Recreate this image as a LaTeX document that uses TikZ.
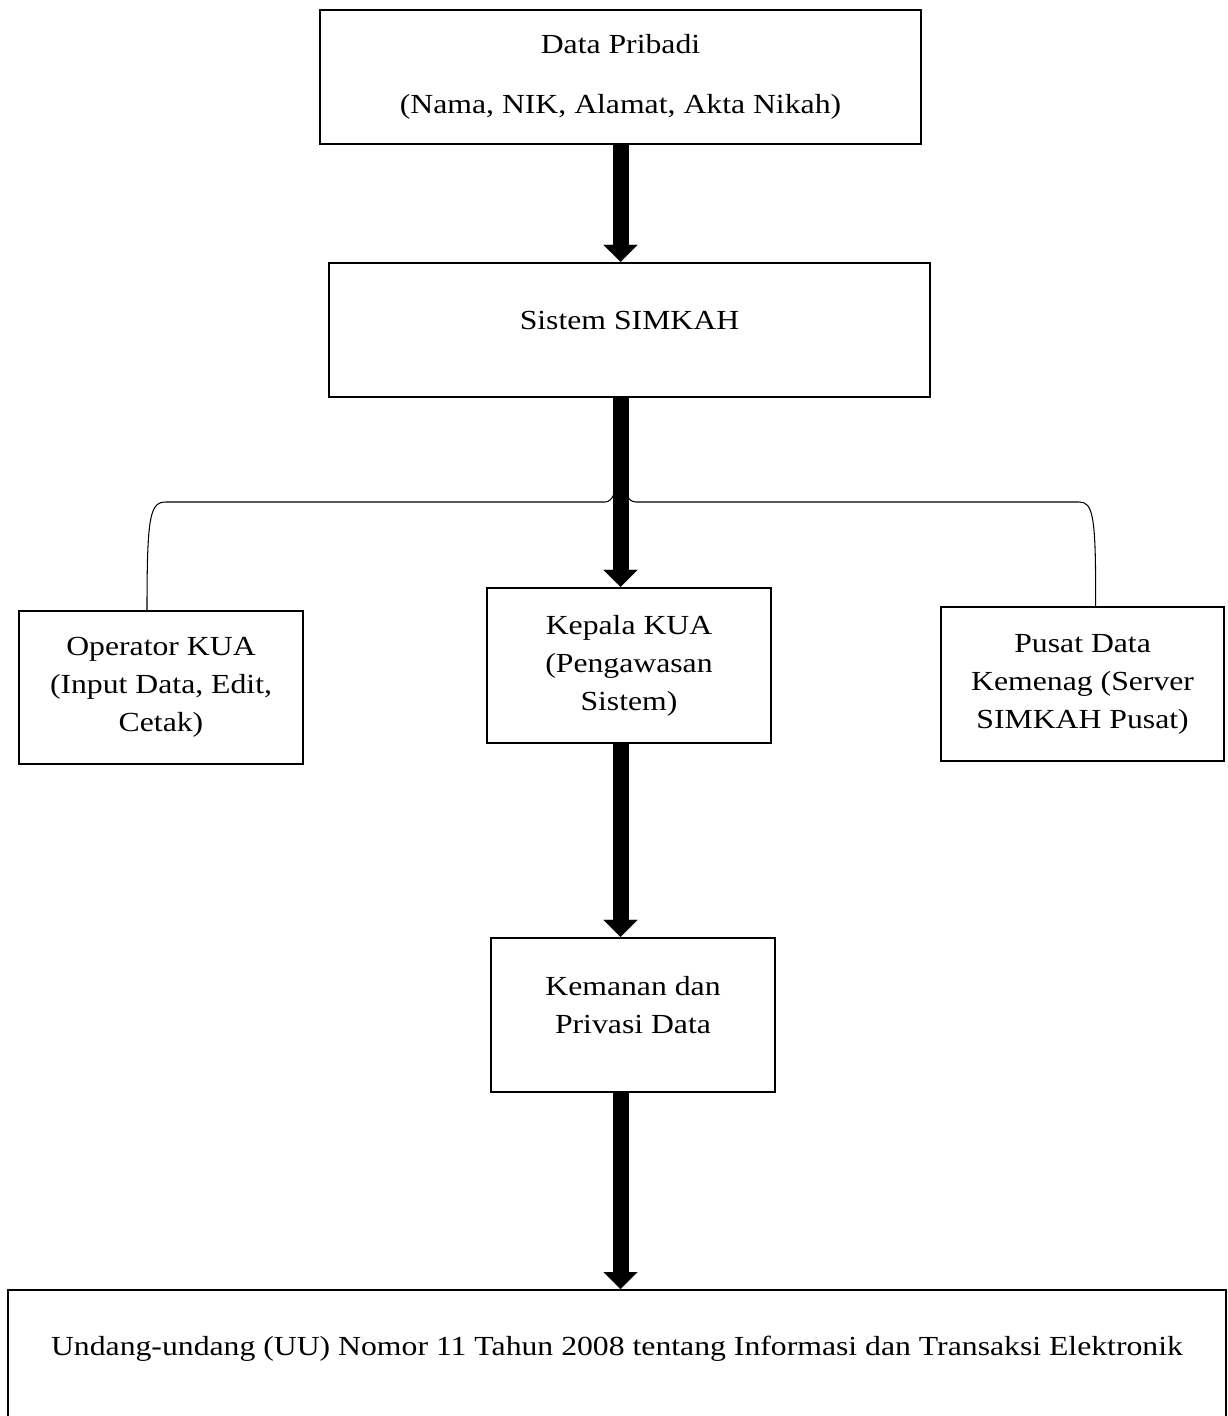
\documentclass[tikz,border=0pt]{standalone}
\usepackage{fontspec}
\setmainfont[FakeStretch=1.15]{Liberation Serif}
\usetikzlibrary{arrows.meta}

\begin{document}
\begin{tikzpicture}[x=0.02cm, y=-0.02cm,
        box/.style={draw=black, line width=1.3pt, align=center, inner sep=0pt, font=\fontsize{15.7}{21.6}\selectfont},
        flow/.style={line width=0.32cm, -{Triangle[width=0.68cm, length=0.34cm, line width=0.1pt]}},
        brace/.style={draw=black, line width=0.6pt}
        ]
            \useasboundingbox (0,0) rectangle (1227,1416);

            \node[box, minimum width=12.02cm, minimum height=2.68cm] (pribadi) at (620.5,77) {Data Pribadi\\[12.5pt](Nama, NIK, Alamat, Akta Nikah)};
            \node[box, minimum width=12.02cm, minimum height=2.68cm, text depth=0.37cm] (sistem) at (629.5,330) {Sistem SIMKAH};
            \node[box, minimum width=5.68cm, minimum height=3.06cm] (opk) at (161,687.5) {Operator KUA\\(Input Data, Edit,\\Cetak)};
            \node[box, minimum width=5.68cm, minimum height=3.1cm] (kepala) at (629,665.5) {Kepala KUA\\(Pengawasan\\Sistem)};
            \node[box, minimum width=5.66cm, minimum height=3.08cm] (pusat) at (1082.6,684) {Pusat Data\\Kemenag (Server\\SIMKAH Pusat)};
            \node[box, minimum width=5.68cm, minimum height=3.08cm, text depth=0.41cm] (aman) at (633,1015) {Kemanan dan\\Privasi Data};
            \node[box, anchor=north, minimum width=24.36cm, minimum height=3.2cm, text depth=0.98cm] (uu) at (617,1289) {Undang-undang (UU) Nomor 11 Tahun 2008 tentang Informasi dan Transaksi Elektronik};

            \coordinate (cusp) at (620,470);

            % kurung kurawal ke tiga bagian
            \draw[brace] ([xshift=-0.28cm]opk.north) .. controls (147,515) and (150,502) .. (166,502) -- (605,502) .. controls (613,502) and (617,490) .. (cusp);
            \draw[brace] (cusp) .. controls (623,490) and (627,502) .. (636,502) -- (1079,502) .. controls (1093,502) and (1096,515) .. ([xshift=0.26cm]pusat.north);

            \draw[flow] (pribadi.south) -- (pribadi.south |- sistem.north);
            \draw[flow] (pribadi.south |- sistem.south) -- (pribadi.south |- kepala.north);
            \draw[flow] (pribadi.south |- kepala.south) -- (pribadi.south |- aman.north);
            \draw[flow] (pribadi.south |- aman.south) -- (pribadi.south |- uu.north);

        \end{tikzpicture}
\end{document}
